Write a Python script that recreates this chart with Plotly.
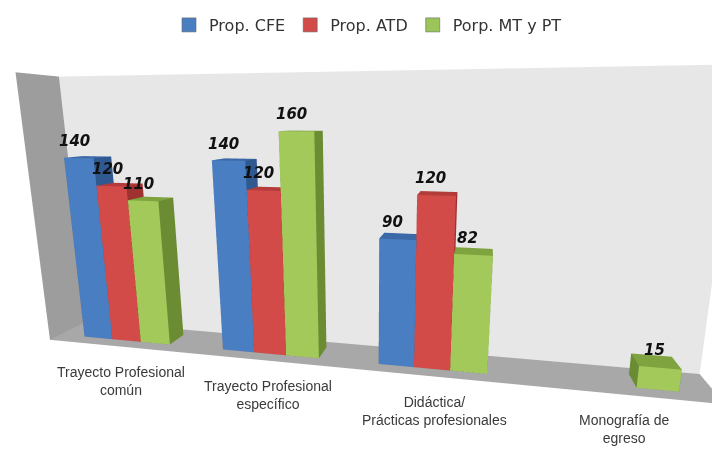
import plotly.graph_objects as go

# ---------------- data ----------------
categories = ["Trayecto Profesional<br>común", "Trayecto Profesional<br>específico",
              "Didáctica/<br>Prácticas profesionales", "Monografía de<br>egreso"]
series_names = ["Prop. CFE", "Prop. ATD", "Porp. MT y PT"]
cfe = [140, 140, 90, None]
atd = [120, 120, 120, None]
mt_pt = [110, 160, 82, 15]
values = [cfe, atd, mt_pt]

# ---------------- style ----------------
# colours per series: (front face, top face, side face)
palette = [
    ("#4a7ec2", "#3b68a6", "#2f5990"),
    ("#d24b48", "#b33b39", "#9e3230"),
    ("#a2c95a", "#7fa33f", "#6b8c33"),
]
legend_cols = ["#4a7ec2", "#d24b48", "#9bc45a"]
BW = 0.21               # bar width in category units
Y0, Y1 = 0.274, 0.75    # bar depth span inside the floor
offsets = [-BW, 0.0, BW]
Z_MAX = 200


def box_mesh(xc, v):
    x0, x1 = xc - BW / 2, xc + BW / 2
    xs = [x0, x1, x1, x0, x0, x1, x1, x0]
    ys = [Y0, Y0, Y1, Y1, Y0, Y0, Y1, Y1]
    zs = [0, 0, 0, 0, v, v, v, v]
    tris = [
        (0, 1, 5, "f"), (0, 5, 4, "f"),   # front
        (4, 5, 6, "t"), (4, 6, 7, "t"),   # top
        (1, 2, 6, "s"), (1, 6, 5, "s"),   # right
        (0, 3, 7, "s"), (0, 7, 4, "s"),   # left
        (3, 2, 6, "s"), (3, 6, 7, "s"),   # back
        (0, 1, 2, "s"), (0, 2, 3, "s"),   # bottom
    ]
    return xs, ys, zs, tris


fig = go.Figure()
for si, (name, vals) in enumerate(zip(series_names, values)):
    X, Y, Z, I, J, K, FC = [], [], [], [], [], [], []
    front, top, side = palette[si]
    cmap = {"f": front, "t": top, "s": side}
    for ci, v in enumerate(vals):
        if v is None:
            continue
        xs, ys, zs, tris = box_mesh(ci + offsets[si], v)
        base = len(X)
        X += xs; Y += ys; Z += zs
        for a, b, c, f in tris:
            I.append(base + a); J.append(base + b); K.append(base + c)
            FC.append(cmap[f])
    fig.add_trace(go.Mesh3d(
        x=X, y=Y, z=Z, i=I, j=J, k=K, facecolor=FC, flatshading=True,
        lighting=dict(ambient=1, diffuse=0, specular=0, fresnel=0, roughness=1),
        hoverinfo="skip", showlegend=False, name=name,
    ))
    # legend entry
    fig.add_trace(go.Scatter(
        x=[None], y=[None], mode="markers", name=name, hoverinfo="skip",
        marker=dict(symbol="square", size=14, color=legend_cols[si],
                    line=dict(color="#666666", width=0.6)),
    ))

annotations = []
for si, vals in enumerate(values):
    for ci, v in enumerate(vals):
        if v is None:
            continue
        annotations.append(dict(
            x=ci + offsets[si] - 0.03, y=Y0, z=v, text=f"<b><i>{v}</i></b>",
            showarrow=False, yanchor="bottom", yshift=6,
            font=dict(family="DejaVu Sans", size=15, color="#111111"),
        ))
for ci, cat in enumerate(categories):
    annotations.append(dict(
        x=ci, y=0, z=0, text=cat, showarrow=False, yanchor="top", yshift=-16, xshift=4,
        font=dict(family="Liberation Sans, Arial", size=14, color="#3a3a3a"),
    ))

axis_common = dict(showgrid=False, zeroline=False, showline=False, showticklabels=False,
                   ticks="", title="", showspikes=False, showbackground=True)

fig.update_layout(
    template="none",
    width=720, height=451,
    paper_bgcolor="white", plot_bgcolor="rgba(0,0,0,0)",
    margin=dict(l=0, r=0, t=0, b=0),
    showlegend=True,
    legend=dict(orientation="h", x=0.5, xanchor="center", y=1.0, yanchor="top",
                font=dict(family="DejaVu Sans", size=16, color="#333333"),
                bgcolor="rgba(0,0,0,0)", itemwidth=30, tracegroupgap=0),
    xaxis=dict(visible=False, domain=[0, 0.01]), yaxis=dict(visible=False, domain=[0, 0.01]),
    scene=dict(
        domain=dict(x=[0, 1], y=[0, 1]),
        bgcolor="rgba(0,0,0,0)",
        xaxis=dict(range=[-0.5, 3.5], backgroundcolor="#9d9d9d", **axis_common),
        yaxis=dict(range=[0, 1], backgroundcolor="#e7e7e7", **axis_common),
        zaxis=dict(range=[0, Z_MAX], backgroundcolor="#a8a8a8", **axis_common),
        aspectmode="manual",
        aspectratio=dict(x=3.542, y=0.3043, z=1.5),
        camera=dict(eye=dict(x=0.6582, y=-2.6815, z=0.5124),
                    center=dict(x=0.0857, y=0.0286, z=-0.0729),
                    up=dict(x=0, y=0, z=1), projection=dict(type="perspective")),
        annotations=annotations,
    ),
)

fig.write_html("out.html")
